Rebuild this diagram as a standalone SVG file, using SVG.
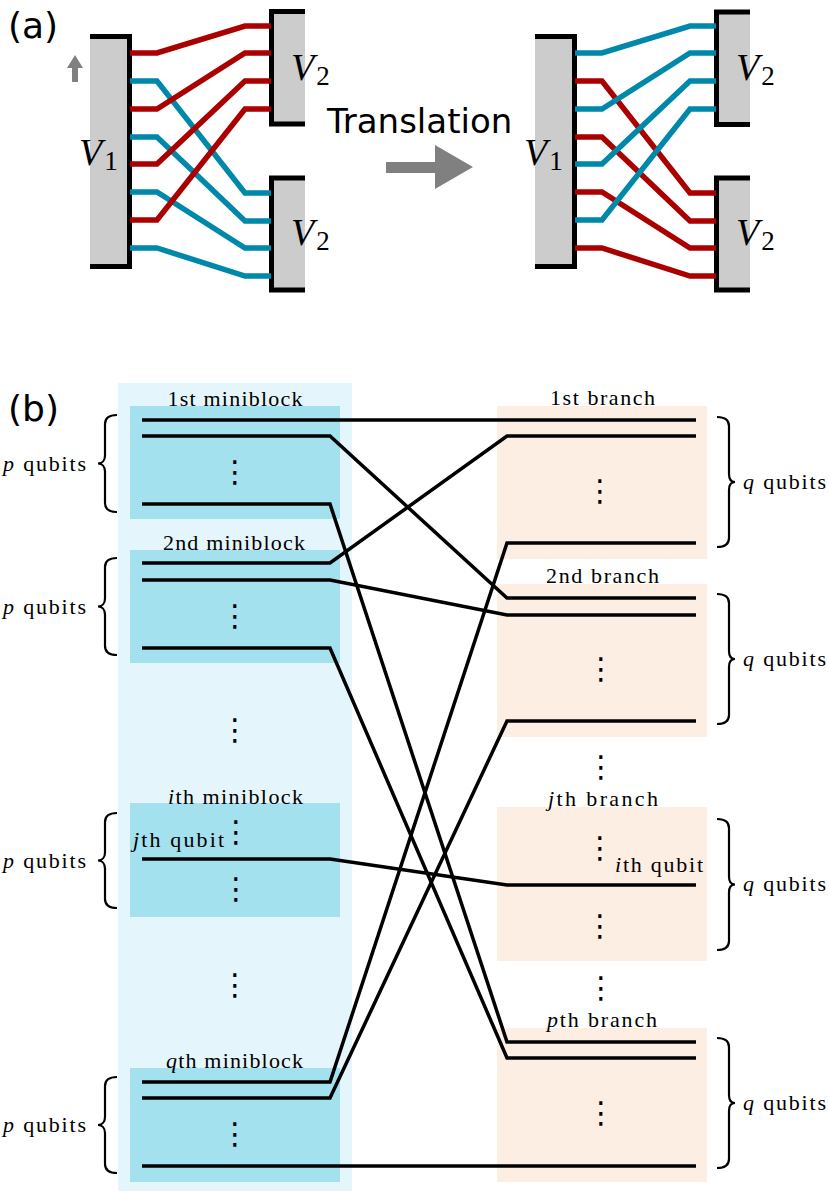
<svg xmlns="http://www.w3.org/2000/svg" width="829" height="1192" viewBox="0 0 829 1192">
<style>
.sans{font-family:"DejaVu Sans",sans-serif;fill:#000}
.ser{font-family:"Liberation Serif",serif;fill:#000;font-size:22px}
.vlab{font-family:"Liberation Serif",serif;fill:#000;font-size:38px;font-style:italic}
.sub{font-style:normal;font-size:27px}
.it{font-style:italic}
.box{fill:#cccccc}
.bd{fill:none;stroke:#000;stroke-width:5}
.red{fill:none;stroke:#aa0000;stroke-width:5.5;stroke-linejoin:miter}
.blue{fill:none;stroke:#0088aa;stroke-width:5.5;stroke-linejoin:miter}
.wire{fill:none;stroke:#000;stroke-width:3.5;stroke-linejoin:miter}
.brace{fill:none;stroke:#000;stroke-width:2.2}
.mini{fill:#a3e1ef}
.br{fill:#fdeee4}
.dots{font-family:"DejaVu Sans",sans-serif;font-size:30px;fill:#000;text-anchor:middle}
</style>

<!-- Part (a) -->
<text class="sans" x="8" y="38" font-size="36">(a)</text>
<text class="sans" x="327" y="133" font-size="34">Translation</text>
<g id="arrow-up"><path d="M72,82 V68 H67 L75,55 L83,68 H78 V82 Z" fill="#808080"/></g>
<g id="arrow-right"><path d="M386,162 H435 V145 L473,167 L435,189 V173 H386 Z" fill="#808080"/></g>

<g id="a-left-V1">
<rect class="box" x="90" y="36.5" width="39.5" height="230"/>
<path class="bd" d="M90,36.5 H129.5 V266.5 H90"/>
<text class="vlab" x="79" y="165">V<tspan class="sub" dy="5" dx="2">1</tspan></text>
</g>
<g id="a-left-V2-top">
<rect class="box" x="271.5" y="11.5" width="33.5" height="112.5"/>
<path class="bd" d="M305,11.5 H271.5 V124 H305"/>
<text class="vlab" x="291" y="80">V<tspan class="sub" dy="5" dx="2">2</tspan></text>
</g>
<g id="a-left-V2-bottom">
<rect class="box" x="271.5" y="178" width="33.5" height="112"/>
<path class="bd" d="M305,178 H271.5 V290 H305"/>
<text class="vlab" x="291" y="245">V<tspan class="sub" dy="5" dx="2">2</tspan></text>
</g>
<g id="a-left-connectors">
<path class="blue" d="M130,81 H157 L245,193 H271"/>
<path class="blue" d="M130,137 H157 L245,221 H271"/>
<path class="blue" d="M130,192 H157 L245,248 H271"/>
<path class="blue" d="M130,248 H157 L245,276 H271"/>
<path class="red" d="M130,53 H157 L245,26 H271"/>
<path class="red" d="M130,109 H157 L245,53 H271"/>
<path class="red" d="M130,164 H157 L245,81 H271"/>
<path class="red" d="M130,220 H157 L245,109 H271"/>
</g>

<g id="a-right-V1">
<rect class="box" x="535" y="36.5" width="39.5" height="230"/>
<path class="bd" d="M535,36.5 H574.5 V266.5 H535"/>
<text class="vlab" x="524" y="165">V<tspan class="sub" dy="5" dx="2">1</tspan></text>
</g>
<g id="a-right-V2-top">
<rect class="box" x="716.5" y="12" width="33.5" height="112.5"/>
<path class="bd" d="M750,12 H716.5 V124.5 H750"/>
<text class="vlab" x="736" y="80">V<tspan class="sub" dy="5" dx="2">2</tspan></text>
</g>
<g id="a-right-V2-bottom">
<rect class="box" x="716.5" y="178" width="33.5" height="112"/>
<path class="bd" d="M750,178 H716.5 V290 H750"/>
<text class="vlab" x="736" y="245">V<tspan class="sub" dy="5" dx="2">2</tspan></text>
</g>
<g id="a-right-connectors">
<path class="red" d="M575,81 H602 L690,193 H716"/>
<path class="red" d="M575,137 H602 L690,221 H716"/>
<path class="red" d="M575,192 H602 L690,248 H716"/>
<path class="red" d="M575,248 H602 L690,276 H716"/>
<path class="blue" d="M575,53 H602 L690,26 H716"/>
<path class="blue" d="M575,109 H602 L690,53 H716"/>
<path class="blue" d="M575,164 H602 L690,81 H716"/>
<path class="blue" d="M575,220 H602 L690,109 H716"/>
</g>

<!-- Part (b) -->
<text class="sans" x="8" y="421" font-size="36">(b)</text>
<rect id="column" x="118" y="383" width="234" height="808" fill="#e4f6fb"/>

<g id="mb1">
<rect class="mini" x="130" y="406" width="210" height="113"/>
<text class="ser" x="235" y="406" text-anchor="middle" textLength="135">1st miniblock</text>
<text class="dots" x="235" y="482">⋮</text>
<path class="brace" d="M117,415 C110,415 105,417 105,424 V455.5 C105,460.5 102,463.5 98,463.5 C102,463.5 105,466.5 105,471.5 V503 C105,510 110,512 117,512"/>
<text class="ser" x="86" y="471" text-anchor="end" textLength="83"><tspan class="it">p</tspan> qubits</text>
</g>
<g id="mb2">
<rect class="mini" x="130" y="550" width="210" height="113"/>
<text class="ser" x="234" y="550" text-anchor="middle" textLength="142">2nd miniblock</text>
<text class="dots" x="235" y="626">⋮</text>
<path class="brace" d="M117,558 C110,558 105,560 105,567 V598.5 C105,603.5 102,606.5 98,606.5 C102,606.5 105,609.5 105,614.5 V646 C105,653 110,655 117,655"/>
<text class="ser" x="86" y="614" text-anchor="end" textLength="83"><tspan class="it">p</tspan> qubits</text>
</g>
<text class="dots" x="235" y="740">⋮</text>
<g id="mbi">
<rect class="mini" x="130" y="803" width="210" height="114"/>
<text class="ser" x="235.5" y="804" text-anchor="middle" textLength="135"><tspan class="it">i</tspan>th miniblock</text>
<text class="dots" x="236" y="842">⋮</text>
<text class="ser" x="133" y="847" textLength="91"><tspan class="it">j</tspan>th qubit</text>
<text class="dots" x="236" y="899">⋮</text>
<path class="brace" d="M117,813 C110,813 105,815 105,822 V852.5 C105,857.5 102,860.5 98,860.5 C102,860.5 105,863.5 105,868.5 V899 C105,906 110,908 117,908"/>
<text class="ser" x="86" y="868" text-anchor="end" textLength="83"><tspan class="it">p</tspan> qubits</text>
</g>
<text class="dots" x="235" y="995">⋮</text>
<g id="mbq">
<rect class="mini" x="130" y="1068" width="210" height="114"/>
<text class="ser" x="234.5" y="1068" text-anchor="middle" textLength="137"><tspan class="it">q</tspan>th miniblock</text>
<text class="dots" x="235" y="1144">⋮</text>
<path class="brace" d="M117,1077 C110,1077 105,1079 105,1086 V1117 C105,1122 102,1125 98,1125 C102,1125 105,1128 105,1133 V1164 C105,1171 110,1173 117,1173"/>
<text class="ser" x="86" y="1132" text-anchor="end" textLength="83"><tspan class="it">p</tspan> qubits</text>
</g>

<g id="br1">
<rect class="br" x="497" y="406" width="210" height="153"/>
<text class="ser" x="602.5" y="405" text-anchor="middle" textLength="105">1st branch</text>
<text class="dots" x="600" y="501">⋮</text>
<path class="brace" d="M717,417 C724,417 729,419 729,426 V474 C729,479 731,482 735,482 C731,482 729,485 729,490 V538 C729,545 724,547 717,547"/>
<text class="ser" x="743" y="489" textLength="83"><tspan class="it">q</tspan> qubits</text>
</g>
<g id="br2">
<rect class="br" x="497" y="584" width="210" height="153"/>
<text class="ser" x="602.5" y="583" text-anchor="middle" textLength="113">2nd branch</text>
<text class="dots" x="601" y="679">⋮</text>
<path class="brace" d="M717,594 C724,594 729,596 729,603 V651 C729,656 731,659 735,659 C731,659 729,662 729,667 V715 C729,722 724,724 717,724"/>
<text class="ser" x="743" y="666" textLength="83"><tspan class="it">q</tspan> qubits</text>
</g>
<text class="dots" x="601" y="777">⋮</text>
<g id="brj">
<rect class="br" x="497" y="807" width="210" height="154"/>
<text class="ser" x="603" y="806" text-anchor="middle" textLength="110"><tspan class="it">j</tspan>th branch</text>
<text class="dots" x="600" y="858">⋮</text>
<text class="ser" x="615" y="872" textLength="88"><tspan class="it">i</tspan>th qubit</text>
<text class="dots" x="600" y="936">⋮</text>
<path class="brace" d="M717,819 C724,819 729,821 729,828 V876.5 C729,881.5 731,884.5 735,884.5 C731,884.5 729,887.5 729,892.5 V941 C729,948 724,950 717,950"/>
<text class="ser" x="743" y="891" textLength="83"><tspan class="it">q</tspan> qubits</text>
</g>
<text class="dots" x="601" y="998">⋮</text>
<g id="brp">
<rect class="br" x="497" y="1028" width="210" height="154"/>
<text class="ser" x="602" y="1027" text-anchor="middle" textLength="110"><tspan class="it">p</tspan>th branch</text>
<text class="dots" x="601" y="1123">⋮</text>
<path class="brace" d="M717,1038 C724,1038 729,1040 729,1047 V1095 C729,1100 731,1103 735,1103 C731,1103 729,1106 729,1111 V1159 C729,1166 724,1168 717,1168"/>
<text class="ser" x="743" y="1110" textLength="83"><tspan class="it">q</tspan> qubits</text>
</g>

<g id="b-connectors">
<path class="wire" d="M142,420 H696"/>
<path class="wire" d="M142,436 H330 L507,598 H696"/>
<path class="wire" d="M142,504 H330 L507,1042 H696"/>
<path class="wire" d="M142,563 H330 L507,436 H696"/>
<path class="wire" d="M142,580 H330 L507,615 H696"/>
<path class="wire" d="M142,648 H330 L507,1058 H696"/>
<path class="wire" d="M142,859 H330 L507,885 H696"/>
<path class="wire" d="M142,1082 H330 L507,543 H696"/>
<path class="wire" d="M142,1098 H330 L507,721 H696"/>
<path class="wire" d="M142,1166 H696"/>
</g>
</svg>
